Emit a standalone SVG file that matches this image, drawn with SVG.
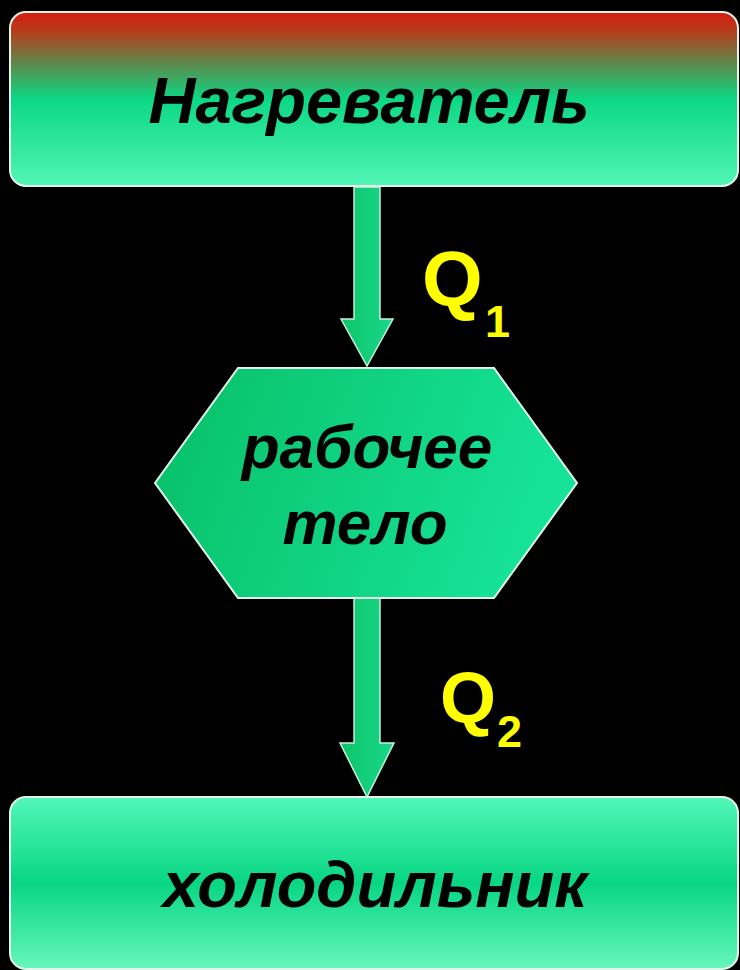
<svg xmlns="http://www.w3.org/2000/svg" width="740" height="970" viewBox="0 0 740 970">
<defs>
<linearGradient id="gTop" x1="0" y1="0" x2="0" y2="1">
<stop offset="0" stop-color="#d81c0e"/>
<stop offset="0.12" stop-color="#b2401e"/>
<stop offset="0.3" stop-color="#5c8a4c"/>
<stop offset="0.5" stop-color="#0cd884"/>
<stop offset="1" stop-color="#52f6b6"/>
</linearGradient>
<linearGradient id="gBot" x1="0" y1="0" x2="0" y2="1">
<stop offset="0" stop-color="#52f7b8"/>
<stop offset="0.5" stop-color="#08d683"/>
<stop offset="1" stop-color="#66f7bc"/>
</linearGradient>
<linearGradient id="gHex" x1="0" y1="0" x2="1" y2="0.2">
<stop offset="0" stop-color="#08bf66"/>
<stop offset="1" stop-color="#16e398"/>
</linearGradient>
<linearGradient id="gArrow" x1="0" y1="0" x2="1" y2="0">
<stop offset="0" stop-color="#0ec46a"/>
<stop offset="1" stop-color="#18d88a"/>
</linearGradient>
</defs>
<style>
.box{stroke:#e4f4ec;stroke-width:2}
.arrow{fill:url(#gArrow);stroke:#c8f0dc;stroke-width:1.5}
.lbl{font-family:"Liberation Sans",Arial,sans-serif;font-weight:bold;font-style:italic;fill:#000;text-anchor:middle}
.q{font-family:"Liberation Sans",Arial,sans-serif;font-weight:bold;fill:#ffff00}
</style>
<rect width="740" height="970" fill="#000"/>
<g id="connectors">
<path class="arrow" d="M354,187 H380 V319 H393 L367,366 L341,319 H354 Z"/>
<path class="arrow" d="M354,598 H380 V743 H394 L367,797 L340,743 H354 Z"/>
</g>
<g id="heater">
<rect class="box" x="10" y="12" width="728" height="174" rx="16" fill="url(#gTop)"/>
<text class="lbl" x="369" y="123" font-size="65">Нагреватель</text>
</g>
<g id="body">
<polygon class="box" points="238,368 494,368 577,483 494,598 238,598 155,483" fill="url(#gHex)" stroke-width="1.5"/>
<text class="lbl" x="367" y="468" font-size="62">рабочее</text>
<text class="lbl" x="365" y="544" font-size="62">тело</text>
</g>
<g id="cooler">
<rect class="box" x="10" y="797" width="728" height="172" rx="16" fill="url(#gBot)"/>
<text class="lbl" x="375" y="907" font-size="65">холодильник</text>
</g>
<g id="labels">
<text class="q" x="422" y="306" font-size="78">Q</text>
<text class="q" x="485" y="337" font-size="45">1</text>
<text class="q" x="440" y="723" font-size="72">Q</text>
<text class="q" x="497" y="747" font-size="45">2</text>
</g>
</svg>
